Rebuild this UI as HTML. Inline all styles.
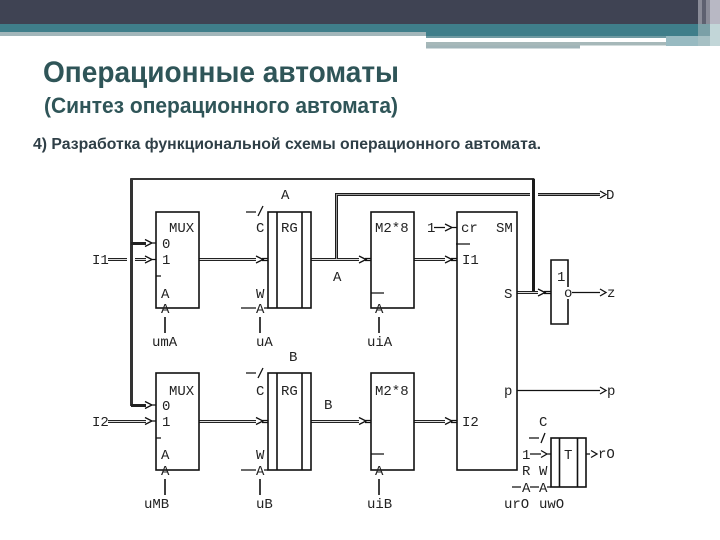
<!DOCTYPE html>
<html lang="ru"><head><meta charset="utf-8"><style>
html,body{margin:0;padding:0;background:#fff}
svg{display:block}
.t{font-family:"Liberation Mono","DejaVu Sans Mono",monospace;font-size:14px;fill:#222}
.h{font-family:"Liberation Sans",sans-serif;font-weight:bold}
.l{fill:none;stroke:#111;stroke-width:1.3}
.k{fill:none;stroke:#111;stroke-width:1.6}
.bo{fill:none;stroke:#222;stroke-width:3}
.bi{fill:none;stroke:#ddd;stroke-width:1}
.o{fill:none;stroke:#1a1a1a;stroke-width:1.7}
</style></head><body>
<svg width="720" height="540" viewBox="0 0 720 540" xmlns="http://www.w3.org/2000/svg">
<rect width="720" height="540" fill="#fff"/>
<!-- header -->
<rect width="720" height="24" fill="#3f4353"/>
<rect y="24" width="720" height="8" fill="#3f7e8a"/>
<rect y="32" width="426" height="4" fill="#a2b6ba"/>
<rect x="426" y="32" width="294" height="4" fill="#3f7e8a"/>
<rect x="426" y="36" width="240" height="2" fill="#6f9aa2"/>
<rect x="426" y="38" width="240" height="4" fill="#fff"/>
<rect x="426" y="42" width="240" height="3.500" fill="#a6b8b9"/>
<rect x="426" y="45.500" width="154" height="3" fill="#a0b4b8"/>
<rect x="666" y="36" width="32" height="10" fill="#98bac1"/>
<rect x="698" y="0" width="4" height="24" fill="#8a8c98"/>
<rect x="702" y="0" width="4" height="24" fill="#5e6170"/>
<rect x="706" y="0" width="4" height="24" fill="#8a8c98"/>
<rect x="698" y="24" width="12" height="12" fill="#7ba0a7"/>
<rect x="698" y="36" width="12" height="10" fill="#a6c0c4"/>
<rect x="710" y="0" width="10" height="24" fill="#b8b8c4"/>
<rect x="710" y="24" width="10" height="22" fill="#c2d6d8"/>
<!-- titles -->
<text class="h" x="43" y="82" font-size="30" fill="#2f5558" textLength="356" lengthAdjust="spacingAndGlyphs">Операционные автоматы</text>
<text class="h" x="44" y="113" font-size="22" fill="#2f5558" textLength="354" lengthAdjust="spacingAndGlyphs">(Синтез операционного автомата)</text>
<text class="h" x="33" y="149" font-size="15.500" fill="#2f3f47" textLength="508" lengthAdjust="spacingAndGlyphs">4) Разработка функциональной схемы операционного автомата.</text>

<!-- outer feedback line -->
<path class="o" d="M131 406V179H533.500V292"/>
<path class="o" d="M533.500 179V292" style="stroke-width:3"/>
<path d="M131.500 179V405" fill="none" stroke="#333" stroke-width="3"/>
<path class="bo" d="M131 243.500H146M131 405.500H146"/>
<!-- buses -->
<path class="bo" d="M108 259.500H127M135 259.500H146M199 259.500H256M311 259.500H359M414 259.500H445M108 421.500H146M199 421.500H256M311 421.500H359M414 421.500H445M517 292.500H538"/>
<path class="bi" d="M108 259.500H127M135 259.500H146M199 259.500H256M311 259.500H359M414 259.500H445M108 421.500H146M199 421.500H256M311 421.500H359M414 421.500H445M517 292.500H538"/>
<path class="bo" d="M336.500 259V194.500H530M538 194.500H600" style="stroke:#1c1c1c"/>
<path class="bi" d="M336.500 259V194.500H530M538 194.500H600" style="stroke:#999"/>

<!-- boxes -->
<g class="k">
<rect class="k" x="156" y="212" width="43" height="96"/>
<rect class="k" x="156" y="373" width="43" height="97"/>
<rect class="k" x="268" y="212" width="43" height="96"/>
<path class="k" d="M277 212V308M302 212V308"/>
<rect class="k" x="268" y="373" width="43" height="97"/>
<path class="k" d="M277 373V470M302 373V470"/>
<rect class="k" x="371" y="212" width="43" height="96"/>
<rect class="k" x="371" y="373" width="43" height="97"/>
<rect class="k" x="457" y="212" width="60" height="258"/>
<path class="k" d="M568 287V260H551V324H568V299"/>
<rect class="k" x="551" y="438" width="35" height="49"/>
<path class="k" d="M559.500 438V487M577.500 438V487"/>
</g>

<!-- arrowheads and stubs -->
<path class="l" d="M145 239.500L152 243L145 246.500M152 243H156
M145 256L152 259.500L145 263M152 259.500H156
M145 417.500L152 421L145 424.500M152 421H156
M145 401.500L152 405L145 408.500M152 405H156
M256 256L263 259.500L256 263M262 258.500H268M262 260.500H268
M256 417.500L263 421L256 424.500M262 420.500H268M262 422.500H268
M359 256L366 259.500L359 263M365 258.500H371M365 260.500H371
M359 417.500L366 421L359 424.500M365 420.500H371M365 422.500H371
M445 256L452 259.500L445 263M451 258.500H457M451 260.500H457
M445 417.500L452 421L445 424.500M451 420.500H457M451 422.500H457
M445 224L452 227.500L445 231M452 227.500H457M434 227.500H445
M538 289L545 292.500L538 296M544 291.500H551M544 293.500H551
M600 191L606 194.500L600 198
M572 292.500H600M600 289L606 292.500L600 296
M517 390.500H600M600 387L606 390.500L600 394
M530 454H541M541 450.500L547 454L541 457.500M547 454H551
M586 454H590M591 450.500L597 454L591 457.500"/>
<!-- control ticks -->
<path class="l" d="M156 276H161M156 438H161
M246 212H256M258 216L263 206M246 373H256M258 378L263 368
M241 308H256M241 470H256M264 308H268M264 470H268
M371 293H384M371 454H384
M456 244H470
M529 438H539M541 443L545 433
M512 487H521M530 487H539M547 487H551"/>
<path class="k" d="M165 317V333M260 317V333M379 317V333M165 479V495M260 479V495M379 479V495"/>

<!-- labels -->
<g class="t">
<text x="281" y="199">A</text>
<text x="606" y="199">D</text>
<text x="169" y="232">MUX</text>
<text x="256" y="232">C</text>
<text x="281" y="232">RG</text>
<text x="375" y="232">M2*8</text>
<text x="427" y="232">1</text>
<text x="461" y="232">cr</text>
<text x="496" y="232">SM</text>
<text x="162" y="248">0</text>
<text x="92" y="264">I1</text>
<text x="162" y="264">1</text>
<text x="462" y="264">I1</text>
<text x="333" y="281">A</text>
<text x="557" y="281">1</text>
<text x="161" y="298">A</text>
<text x="256" y="298">W</text>
<text x="504" y="298">S</text>
<text x="564" y="297">o</text>
<text x="607" y="297">z</text>
<text x="161" y="313">A</text>
<text x="256" y="313">A</text>
<text x="375" y="313">A</text>
<text x="152" y="346">umA</text>
<text x="256" y="346">uA</text>
<text x="367" y="346">uiA</text>
<text x="289" y="361">B</text>
<text x="169" y="395">MUX</text>
<text x="256" y="395">C</text>
<text x="281" y="395">RG</text>
<text x="375" y="395">M2*8</text>
<text x="504" y="395">p</text>
<text x="607" y="395">p</text>
<text x="162" y="410">0</text>
<text x="324" y="409">B</text>
<text x="92" y="426">I2</text>
<text x="162" y="426">1</text>
<text x="462" y="426">I2</text>
<text x="539" y="426">C</text>
<text x="564" y="459">T</text>
<text x="522" y="459">1</text>
<text x="598" y="458">rO</text>
<text x="161" y="459">A</text>
<text x="256" y="459">W</text>
<text x="161" y="475">A</text>
<text x="256" y="475">A</text>
<text x="375" y="475">A</text>
<text x="522" y="475">R</text>
<text x="539" y="475">W</text>
<text x="522" y="492">A</text>
<text x="539" y="492">A</text>
<text x="144" y="508">uMB</text>
<text x="256" y="508">uB</text>
<text x="367" y="508">uiB</text>
<text x="504" y="508">urO</text>
<text x="539" y="508">uwO</text>
</g>
</svg>
</body></html>
